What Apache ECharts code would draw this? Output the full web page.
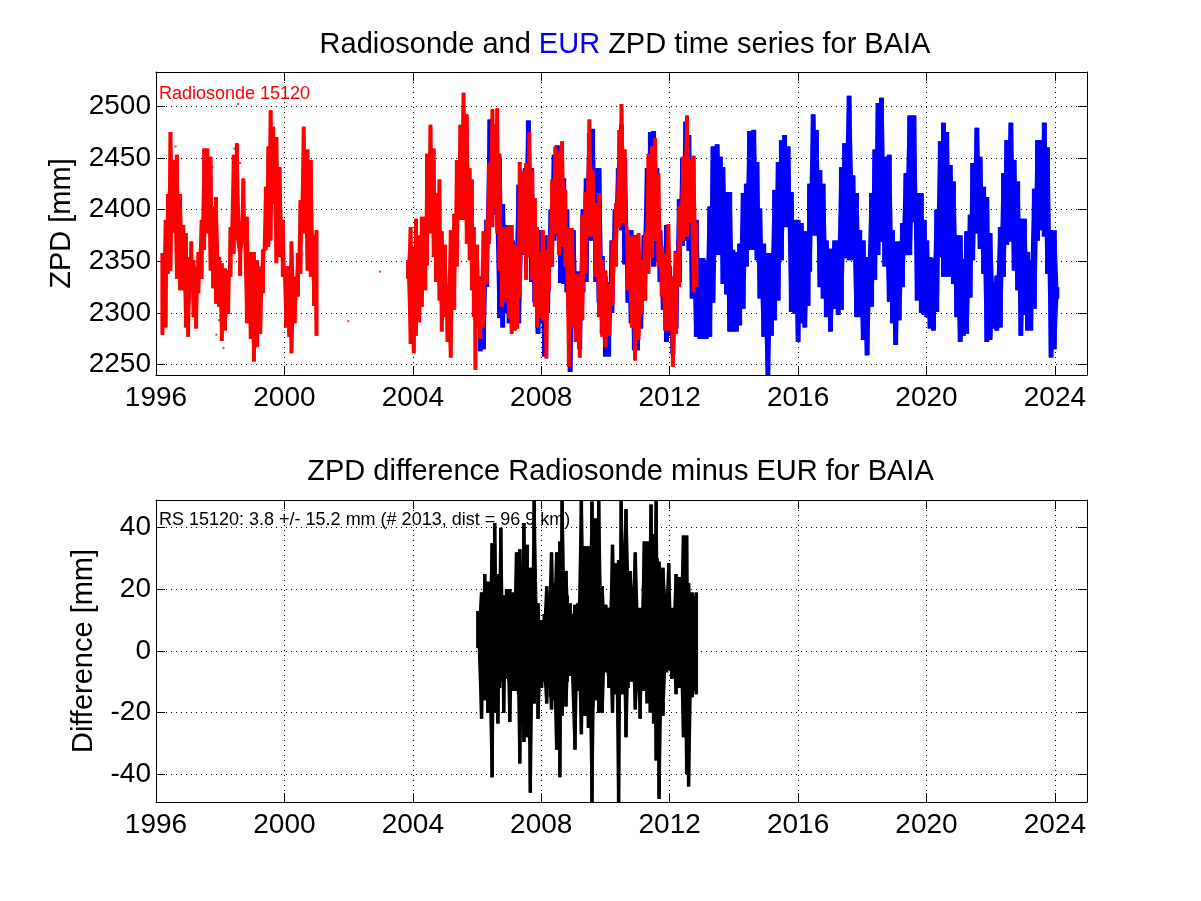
<!DOCTYPE html>
<html><head><meta charset="utf-8">
<style>html,body{margin:0;padding:0;background:#fff;overflow:hidden}#c{width:1201px;height:901px}</style>
<script src="https://cdn.jsdelivr.net/npm/echarts@6/dist/echarts.min.js"></script>
</head><body><div id="c"></div>
<script>
const xTickYears=[1996,2000,2004,2008,2012,2016,2020,2024];
const zpdTicks=[2250,2300,2350,2400,2450,2500];
const diffTicks=[-40,-20,0,20,40];

const redAYears=[1996.2,1996.3,1996.37,1996.45,1996.55,1996.65,1996.75,1996.85,1996.93,1997.0,1997.1,1997.17,1997.25,1997.32,1997.42,1997.5,1997.6,1997.7,1997.78,1997.87,1997.97,1998.05,1998.15,1998.25,1998.32,1998.42,1998.52,1998.62,1998.72,1998.83,1998.95,1999.05,1999.15,1999.25,1999.33,1999.42,1999.5,1999.57,1999.65,1999.75,1999.85,1999.95,2000.05,2000.15,2000.22,2000.32,2000.42,2000.5,2000.6,2000.72,2000.82,2000.92,2001.0];
const redAHigh=[2358,2390,2415,2475,2448,2453,2415,2385,2377,2354,2369,2351,2345,2359,2390,2459,2459,2451,2403,2412,2354,2348,2343,2341,2383,2453,2464,2354,2430,2393,2359,2359,2351,2345,2361,2422,2461,2496,2480,2470,2441,2390,2345,2345,2369,2335,2358,2409,2480,2458,2448,2375,2380];
const redALow=[2279,2286,2338,2341,2378,2333,2322,2322,2286,2277,2325,2296,2285,2319,2333,2361,2377,2341,2324,2309,2306,2273,2283,2299,2335,2357,2375,2336,2380,2290,2275,2253,2267,2280,2319,2361,2364,2370,2406,2348,2354,2335,2286,2277,2261,2290,2316,2338,2377,2341,2335,2307,2278];

const redBYears=[2003.85,2003.93,2004.03,2004.1,2004.2,2004.28,2004.39,2004.44,2004.55,2004.65,2004.72,2004.83,2004.9,2005.0,2005.08,2005.18,2005.29,2005.37,2005.48,2005.58,2005.68,2005.77,2005.84,2005.9,2005.95,2006.0,2006.1,2006.2,2006.3,2006.37,2006.48,2006.55,2006.63,2006.7,2006.78,2006.9,2007.0,2007.08,2007.18,2007.25,2007.33,2007.43,2007.53,2007.63,2007.72,2007.8,2007.87,2007.95,2008.05,2008.16,2008.24,2008.34,2008.44,2008.55,2008.65,2008.75,2008.86,2008.96,2009.07,2009.2,2009.28,2009.38,2009.5,2009.6,2009.7,2009.8,2009.9,2010.0,2010.12,2010.22,2010.33,2010.43,2010.5,2010.6,2010.7,2010.82,2010.92,2011.03,2011.13,2011.24,2011.34,2011.45,2011.55,2011.65,2011.75,2011.86,2011.96,2012.1,2012.2,2012.3,2012.42,2012.54,2012.65,2012.75,2012.83];
const redBHigh=[2351,2383,2364,2391,2375,2393,2393,2454,2482,2459,2416,2429,2379,2366,2325,2380,2396,2448,2482,2513,2492,2440,2429,2383,2341,2366,2333,2379,2390,2445,2497,2482,2498,2454,2383,2383,2385,2385,2366,2364,2446,2437,2445,2475,2438,2411,2383,2359,2380,2361,2375,2429,2461,2456,2466,2419,2382,2382,2338,2338,2395,2417,2487,2438,2406,2416,2351,2341,2328,2370,2406,2477,2502,2458,2377,2375,2374,2377,2351,2377,2454,2461,2469,2435,2364,2358,2386,2335,2359,2403,2451,2491,2448,2452,2387];
const redBLow=[2333,2270,2261,2278,2291,2306,2322,2346,2377,2354,2330,2312,2282,2296,2272,2257,2303,2345,2390,2390,2367,2351,2322,2296,2245,2286,2275,2286,2328,2367,2383,2403,2377,2341,2306,2311,2295,2280,2283,2285,2315,2357,2332,2354,2332,2306,2286,2295,2293,2256,2322,2345,2377,2356,2364,2345,2248,2286,2272,2257,2293,2338,2374,2374,2335,2296,2277,2267,2278,2307,2345,2383,2387,2390,2322,2286,2254,2274,2299,2312,2338,2354,2370,2345,2316,2283,2283,2248,2280,2325,2370,2374,2387,2320,2325];

const redDotYears=[2001.99,2002.98,1998.56,1996.61,1997.75,1997.68,1998.44,1998.77,1998.62,1998.65,1998.62,1997.0,1997.96,1998.0,1997.88,1998.1];
const redDotValues=[2292,2340,2502,2461,2441,2422,2459,2426,2445,2365,2372,2294,2293,2297,2279,2266];

const blueYears=[2006.1,2006.2,2006.3,2006.4,2006.5,2006.6,2006.7,2006.8,2006.9,2007.0,2007.1,2007.2,2007.3,2007.4,2007.5,2007.6,2007.7,2007.8,2007.9,2008.0,2008.1,2008.2,2008.3,2008.4,2008.5,2008.6,2008.7,2008.8,2008.9,2009.0,2009.1,2009.2,2009.3,2009.4,2009.5,2009.6,2009.7,2009.8,2009.9,2010.0,2010.1,2010.2,2010.3,2010.4,2010.5,2010.6,2010.7,2010.8,2010.9,2011.0,2011.1,2011.2,2011.3,2011.4,2011.5,2011.6,2011.7,2011.8,2011.9,2012.0,2012.1,2012.2,2012.3,2012.4,2012.5,2012.6,2012.7,2012.83,2012.94,2013.04,2013.14,2013.25,2013.35,2013.48,2013.58,2013.66,2013.77,2013.87,2013.97,2014.08,2014.18,2014.29,2014.39,2014.49,2014.62,2014.72,2014.81,2014.93,2015.06,2015.17,2015.27,2015.38,2015.48,2015.58,2015.69,2015.79,2015.9,2016.0,2016.1,2016.21,2016.31,2016.36,2016.47,2016.57,2016.68,2016.78,2016.88,2017.01,2017.14,2017.25,2017.35,2017.45,2017.59,2017.71,2017.82,2017.92,2018.03,2018.15,2018.29,2018.39,2018.49,2018.6,2018.7,2018.84,2018.94,2019.04,2019.15,2019.25,2019.36,2019.48,2019.61,2019.71,2019.84,2019.93,2020.01,2020.11,2020.22,2020.32,2020.43,2020.53,2020.63,2020.74,2020.84,2020.94,2021.05,2021.15,2021.25,2021.36,2021.44,2021.57,2021.67,2021.78,2021.88,2021.98,2022.09,2022.19,2022.3,2022.4,2022.5,2022.63,2022.73,2022.84,2022.94,2023.05,2023.15,2023.25,2023.36,2023.46,2023.57,2023.67,2023.77,2023.88,2023.98,2024.06];
const blueHigh=[2335,2350,2390,2487,2480,2450,2450,2405,2385,2380,2370,2350,2424,2400,2440,2486,2440,2380,2380,2380,2360,2375,2400,2453,2462,2445,2430,2400,2360,2380,2340,2340,2400,2430,2474,2478,2440,2440,2355,2335,2330,2370,2400,2440,2482,2450,2378,2380,2375,2375,2350,2375,2440,2475,2476,2440,2380,2340,2385,2345,2335,2360,2410,2450,2485,2472,2420,2390,2353,2353,2351,2403,2461,2463,2451,2441,2417,2417,2361,2359,2367,2416,2425,2476,2477,2446,2401,2367,2358,2358,2419,2446,2467,2472,2461,2417,2390,2390,2387,2379,2379,2425,2492,2477,2438,2425,2370,2362,2370,2370,2441,2464,2510,2433,2416,2380,2370,2354,2416,2458,2503,2508,2451,2453,2380,2369,2369,2387,2435,2491,2491,2416,2416,2390,2370,2354,2353,2400,2466,2484,2475,2443,2427,2375,2375,2352,2379,2395,2445,2479,2451,2422,2412,2377,2330,2336,2383,2435,2467,2484,2448,2427,2391,2391,2359,2351,2420,2467,2467,2484,2460,2380,2380,2325];
const blueLow=[2263,2265,2325,2383,2400,2395,2295,2286,2300,2290,2285,2300,2290,2356,2357,2357,2330,2310,2280,2290,2258,2300,2345,2370,2375,2329,2328,2320,2243,2290,2275,2265,2320,2330,2370,2370,2330,2310,2280,2258,2258,2300,2350,2390,2380,2347,2310,2290,2264,2264,2285,2320,2340,2360,2345,2350,2330,2303,2272,2278,2260,2285,2330,2365,2370,2360,2314,2277,2275,2275,2275,2277,2310,2356,2356,2328,2318,2282,2282,2282,2288,2304,2345,2361,2361,2351,2314,2277,2240,2278,2293,2312,2351,2383,2383,2301,2299,2272,2290,2286,2307,2340,2375,2375,2325,2314,2296,2282,2304,2298,2303,2353,2351,2351,2296,2296,2274,2259,2306,2332,2356,2369,2345,2311,2290,2269,2293,2325,2356,2356,2388,2312,2300,2298,2296,2285,2283,2301,2354,2335,2335,2335,2328,2296,2272,2278,2280,2315,2351,2377,2362,2338,2272,2274,2285,2283,2286,2335,2366,2369,2341,2322,2278,2298,2283,2283,2304,2370,2380,2374,2338,2257,2265,2314];

const diffYears=[2006.03,2006.14,2006.24,2006.34,2006.47,2006.55,2006.65,2006.74,2006.83,2006.92,2007.02,2007.12,2007.23,2007.33,2007.46,2007.56,2007.66,2007.78,2007.9,2008.01,2008.17,2008.32,2008.48,2008.58,2008.65,2008.77,2008.9,2009.05,2009.14,2009.25,2009.36,2009.47,2009.58,2009.69,2009.79,2009.9,2010.01,2010.11,2010.22,2010.32,2010.41,2010.49,2010.64,2010.77,2010.93,2011.08,2011.21,2011.31,2011.42,2011.5,2011.58,2011.67,2011.79,2011.97,2012.07,2012.2,2012.3,2012.43,2012.53,2012.59,2012.7,2012.83];
const diffHigh=[13,19,25,22.5,35,41.5,25,40,18,20,20,19,32,33,41.5,34.5,27,49,15.5,10,21,32,32,35.5,49,26,15.5,15,15.5,49,34,34,48.5,43,49,21,15,14,34.5,28.5,29.5,49,46,26,32,13,35.5,35.5,47.5,38,49,29,27,28.5,13,25,24,37.5,37.5,22,19,19];
const diffLow=[1,-22,-16,-20,-41,-20,-23.5,-4,-20,-9,-23,-13,-13,-36.5,-29.5,-28,-46,-17,-22,-12,-17,-19,-32,-41,-21,-18,-8,-32,-13,-27,-21,-25,-49,-16,-20,-20,-4,-12,-20,-14,-49,-14,-28,-8,-19,-22,-9,-15,-19,-23.5,-35.5,-48,-21,-6,-9,-14,-12,-28,-40,-44,-15,-14];

// Edges of the solid black body of the difference trace, read separately from its outer spikes.
const diffBodyYears=[2006.1,2006.2,2006.3,2006.4,2006.5,2006.6,2006.7,2006.8,2006.9,2007.0,2007.1,2007.2,2007.3,2007.4,2007.5,2007.6,2007.7,2007.8,2007.9,2008.0,2008.1,2008.2,2008.3,2008.4,2008.5,2008.6,2008.7,2008.8,2008.9,2009.0,2009.1,2009.2,2009.3,2009.4,2009.5,2009.6,2009.7,2009.8,2009.9,2010.0,2010.1,2010.2,2010.3,2010.4,2010.5,2010.6,2010.7,2010.8,2010.9,2011.0,2011.1,2011.2,2011.3,2011.4,2011.5,2011.6,2011.7,2011.8,2011.9,2012.0,2012.1,2012.2,2012.3,2012.4,2012.5,2012.6,2012.7,2012.8];
const diffBodyHigh=[12,16,20,20,22,24,22,18,16,15,14,16,20,24,26,26,24,18,14,10,12,14,18,22,25,25,24,18,13,12,12,16,22,26,27,28,26,20,13,11,12,16,22,26,28,28,26,20,14,14,14,18,24,28,30,30,26,20,15,14,14,15,18,20,20,19,18,18];
const diffBodyLow=[-3,-8,-10,-12,-12,-13,-12,-10,-9,-10,-9,-10,-14,-17,-18,-20,-17,-13,-11,-10,-10,-12,-15,-16,-17,-18,-15,-10,-8,-8,-9,-11,-15,-18,-18,-18,-14,-10,-8,-7,-8,-10,-12,-14,-14,-14,-12,-10,-9,-9,-10,-13,-17,-20,-20,-20,-15,-9,-7,-6,-8,-10,-12,-12,-13,-13,-13,-13];

// Walk the readings forwards, then back, so that the measured high/low swings close up as in the dense source series.
function zigzag(years,high,low){
  const out=[];
  years.forEach((y,i)=>{out.push([y,high[i]]);out.push([y,low[i]]);});
  for(let i=years.length-1;i>=0;i--){out.push([years[i],high[i]]);out.push([years[i],low[i]]);}
  return out;
}
// Separate high-to-low strokes: these give the blocky columns of the source.
function columns(years,high,low){
  const out=[];
  years.forEach((y,i)=>{out.push([y,high[i]]);out.push([y,low[i]]);out.push([y,null]);});
  return out;
}
const FONT='"Liberation Sans",Arial,sans-serif';
const TICK=28, NAME=29;
function xAxisOf(g,pos,labelled){
  return {type:'value',gridIndex:g,position:pos,min:1996,max:2025,interval:4,
    axisLine:{show:true,onZero:false,lineStyle:{color:'#000',width:1}},
    axisTick:{show:true,inside:true,length:9,lineStyle:{color:'#000',width:1}},
    splitLine:{show:labelled,lineStyle:{color:'#000',width:1,type:[1,4]}},
    axisLabel:labelled?{show:true,fontFamily:FONT,fontSize:TICK,color:'#000',margin:9,hideOverlap:false,
      showMaxLabel:false,formatter:v=>xTickYears.includes(v)?String(v):''}:{show:false}};
}
function yAxisOf(g,pos,labelled,min,max,split,ticks,name,gap){
  return {type:'value',gridIndex:g,position:pos,min,max,splitNumber:split,
    name:labelled?name:'',nameLocation:'middle',nameGap:gap,
    nameTextStyle:{fontFamily:FONT,fontSize:NAME,color:'#000'},
    axisLine:{show:true,onZero:false,lineStyle:{color:'#000',width:1}},
    axisTick:{show:true,inside:true,length:9,lineStyle:{color:'#000',width:1}},
    splitLine:{show:labelled,lineStyle:{color:'#000',width:1,type:[1,4]}},
    axisLabel:labelled?{show:true,fontFamily:FONT,fontSize:TICK,color:'#000',margin:5,
      formatter:v=>ticks.includes(v)?String(v):''}:{show:false}};
}
function lineOf(name,x,y,data,color,width){
  return {name,type:'line',xAxisIndex:x,yAxisIndex:y,data,showSymbol:false,symbol:'none',
    sampling:false,clip:true,connectNulls:false,lineStyle:{color,width,cap:'butt',join:'bevel'},emphasis:{disabled:true},silent:true};
}
const chart=echarts.init(document.getElementById('c'),null,{renderer:'canvas'});
chart.setOption({
  animation:false,backgroundColor:'#fff',
  title:[
    {text:'{a|Radiosonde and }{b|EUR}{a| ZPD time series for BAIA}',left:620,top:25,textAlign:'center',
      textStyle:{fontFamily:FONT,fontWeight:'normal',fontSize:29,rich:{a:{fontFamily:FONT,fontSize:29,color:'#000'},b:{fontFamily:FONT,fontSize:29,color:'#0000ff'}}}},
    {text:'ZPD difference Radiosonde minus EUR for BAIA',left:615.5,top:452,textAlign:'center',
      textStyle:{fontFamily:FONT,fontWeight:'normal',fontSize:29,color:'#000'}},
    {text:'Radiosonde 15120',left:154,top:80,textStyle:{fontFamily:FONT,fontWeight:'normal',fontSize:18,color:'#ff0000'}},
    {text:'RS 15120: 3.8 +/- 15.2 mm (# 2013, dist = 96.9 km)',left:154,top:506,textStyle:{fontFamily:FONT,fontWeight:'normal',fontSize:18,color:'#000'}}
  ],
  grid:[{left:156,top:72,width:931,height:303},{left:156,top:500,width:931,height:302}],
  xAxis:[xAxisOf(0,'bottom',true),xAxisOf(1,'bottom',true),xAxisOf(0,'top',false),xAxisOf(1,'top',false)],
  yAxis:[
    yAxisOf(0,'left',true,2240,2533,6,zpdTicks,'ZPD [mm]',80),
    yAxisOf(1,'left',true,-49,49,5,diffTicks,'Difference [mm]',58),
    yAxisOf(0,'right',false,2240,2533,6,zpdTicks,'',0),
    yAxisOf(1,'right',false,-49,49,5,diffTicks,'',0)
  ],
  series:[
    lineOf('EUR',0,0,zigzag(blueYears,blueHigh,blueLow),'#0000ff',4),
    lineOf('EUR columns',0,0,columns(blueYears,blueHigh,blueLow),'#0000ff',5),
    lineOf('Radiosonde A',0,0,zigzag(redAYears,redAHigh,redALow),'#ff0000',3),
    lineOf('Radiosonde A columns',0,0,columns(redAYears,redAHigh,redALow),'#ff0000',4),
    lineOf('Radiosonde B',0,0,zigzag(redBYears,redBHigh,redBLow),'#ff0000',3),
    lineOf('Radiosonde B columns',0,0,columns(redBYears,redBHigh,redBLow),'#ff0000',4),
    {name:'Radiosonde isolated',type:'scatter',xAxisIndex:0,yAxisIndex:0,symbolSize:2,symbol:'rect',silent:true,
      itemStyle:{color:'#ff0000'},data:redDotYears.map((y,i)=>[y,redDotValues[i]])},
    lineOf('Difference',1,1,zigzag(diffYears,diffHigh,diffLow),'#000',3),
    lineOf('Difference columns',1,1,columns(diffYears,diffHigh,diffLow),'#000',3.5),
    lineOf('Difference body',1,1,columns(diffBodyYears,diffBodyHigh,diffBodyLow),'#000',4)
  ]
});
</script></body></html>
